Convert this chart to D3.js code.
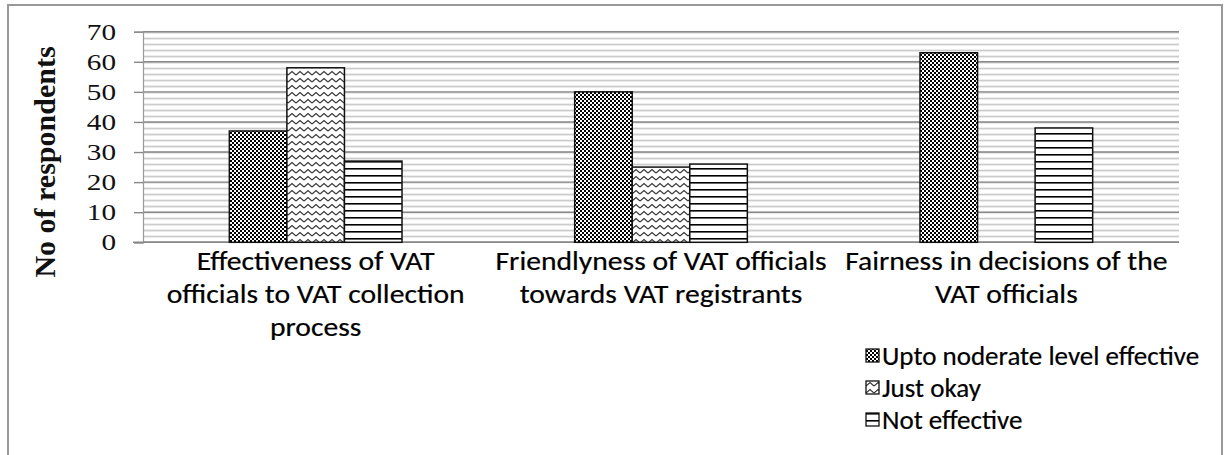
<!DOCTYPE html>
<html><head><meta charset="utf-8">
<script src="https://cdn.jsdelivr.net/npm/d3@7"></script>
<style>body{margin:0;background:#fff}svg{display:block}</style>
</head><body>
<script>
const categories = [
  ["Effectiveness of VAT", "officials to VAT collection", "process"],
  ["Friendlyness of VAT officials", "towards VAT registrants"],
  ["Fairness in decisions of the", "VAT officials"]
];
const seriesNames = ["Upto noderate level effective", "Just okay", "Not effective"];
const uptoModerate = [37, 50, 63];
const justOkay = [58, 25, null];
const notEffective = [27, 26, 38];
const yTicks = [0, 10, 20, 30, 40, 50, 60, 70];
const seriesValues = [uptoModerate, justOkay, notEffective];
const patternIds = ["pChecker", "pWave", "pHoriz"];

const W = 1227, H = 455;
const svg = d3.select("body").append("svg").attr("width", W).attr("height", H);
const defs = svg.append("defs");

// patterns
const pc = defs.append("pattern").attr("id", "pChecker").attr("patternUnits", "userSpaceOnUse").attr("width", 4).attr("height", 4);
pc.append("rect").attr("width", 4).attr("height", 4).attr("fill", "#000");
pc.append("rect").attr("x", 0).attr("y", 0).attr("width", 2).attr("height", 2).attr("fill", "#fff");
pc.append("rect").attr("x", 2).attr("y", 2).attr("width", 2).attr("height", 2).attr("fill", "#fff");

const pw = defs.append("pattern").attr("id", "pWave").attr("patternUnits", "userSpaceOnUse").attr("width", 8).attr("height", 7);
pw.append("rect").attr("width", 8).attr("height", 7).attr("fill", "#fff");
pw.append("path").attr("d", "M0,5 L4,1.5 L8,5").attr("fill", "none").attr("stroke", "#333").attr("stroke-width", 1.1);

const ph = defs.append("pattern").attr("id", "pHoriz").attr("patternUnits", "userSpaceOnUse").attr("width", 8).attr("height", 7);
ph.append("rect").attr("width", 8).attr("height", 7).attr("fill", "#fff");
ph.append("rect").attr("y", 0).attr("width", 8).attr("height", 1.6).attr("fill", "#000");

const pb = defs.append("pattern").attr("id", "pBg").attr("patternUnits", "userSpaceOnUse").attr("width", 8).attr("height", 6).attr("y", 1.7);
pb.append("rect").attr("width", 8).attr("height", 6).attr("fill", "#fff");
pb.append("rect").attr("y", 0).attr("width", 8).attr("height", 1.5).attr("fill", "#c2c2c2");

// outer border
svg.append("rect").attr("x", 8).attr("y", 5).attr("width", 1214).attr("height", 470)
  .attr("fill", "#fff").attr("stroke", "#999").attr("stroke-width", 2);

const plot = {left: 143, right: 1179, top: 31.7, bottom: 242.3};
const x = d3.scaleBand().domain(d3.range(categories.length)).range([plot.left, plot.right]);
const xs = d3.scaleBand().domain(d3.range(seriesNames.length)).range([x.bandwidth() / 4, x.bandwidth() * 3 / 4]);
const y = d3.scaleLinear().domain([0, 70]).range([plot.bottom, plot.top]);

// plot background stripes
svg.append("rect").attr("x", plot.left).attr("y", plot.top).attr("width", plot.right - plot.left)
  .attr("height", plot.bottom - plot.top).attr("fill", "url(#pBg)");

// gridlines
svg.append("g").selectAll("line").data(yTicks).join("line")
  .attr("x1", plot.left).attr("x2", plot.right)
  .attr("y1", d => y(d)).attr("y2", d => y(d))
  .attr("stroke", "#8a8a8a").attr("stroke-width", 1.4);

// y axis
const yAxis = svg.append("g").attr("transform", `translate(${plot.left},0)`)
  .call(d3.axisLeft(y).tickValues(yTicks).tickSize(9).tickFormat(""));
yAxis.select(".domain").attr("stroke", "#999").attr("stroke-width", 1.2);
yAxis.selectAll(".tick line").attr("stroke", "#888").attr("stroke-width", 1.4);

// y tick labels (stretched serif)
svg.append("g").selectAll("text").data(yTicks).join("text")
  .attr("transform", d => `translate(116,${y(d)}) scale(1.3,1)`)
  .attr("text-anchor", "end").attr("dy", "0.35em")
  .attr("font-family", "Liberation Serif, Times New Roman, serif").attr("font-size", 22.5)
  .attr("fill", "#111").text(d => d);

// x baseline
svg.append("line").attr("x1", 133).attr("x2", plot.right).attr("y1", plot.bottom).attr("y2", plot.bottom)
  .attr("stroke", "#888").attr("stroke-width", 1.4);

// bars
const groups = svg.append("g").selectAll("g").data(seriesValues).join("g");
groups.each(function (vals, si) {
  d3.select(this).selectAll("rect")
    .data(vals.map((v, ci) => ({v, ci})).filter(d => d.v != null))
    .join("rect")
    .attr("x", d => x(d.ci) + xs(si))
    .attr("width", xs.bandwidth())
    .attr("y", d => y(d.v))
    .attr("height", d => y(0) - y(d.v))
    .attr("fill", `url(#${patternIds[si]})`)
    .attr("stroke", "#111").attr("stroke-width", 1.5);
});

// y label
svg.append("text").attr("transform", "translate(55,162) rotate(-90)")
  .attr("text-anchor", "middle").attr("font-family", "Liberation Serif, Times New Roman, serif")
  .attr("font-weight", "bold").attr("font-size", 30).attr("fill", "#111").text("No of respondents");

// category labels
const sansFont = "Carlito, Calibri, 'Open Sans', 'Noto Sans', sans-serif";
const catG = svg.append("g");
categories.forEach((lines, ci) => {
  lines.forEach((ln, li) => {
    catG.append("text")
      .attr("transform", `translate(${x(ci) + x.bandwidth() / 2},${270 + li * 33}) scale(1.14,1)`)
      .attr("text-anchor", "middle").attr("font-family", sansFont).attr("font-size", 26)
      .attr("fill", "#000").attr("stroke", "#000").attr("stroke-width", 0.2).text(ln);
  });
});

// legend
const leg = svg.append("g").selectAll("g").data(seriesNames).join("g")
  .attr("transform", (d, i) => `translate(866,${356 + i * 32})`);
leg.append("rect").attr("x", 0).attr("y", -7).attr("width", 13).attr("height", 13)
  .attr("fill", (d, i) => `url(#${patternIds[i]})`).attr("stroke", "#111").attr("stroke-width", 1.3);
leg.append("text").attr("transform", "translate(16,0)").attr("dy", "0.35em")
  .attr("font-family", sansFont).attr("font-size", 27).attr("fill", "#000")
  .attr("stroke", "#000").attr("stroke-width", 0.2).text(d => d);
</script>
</body></html>
